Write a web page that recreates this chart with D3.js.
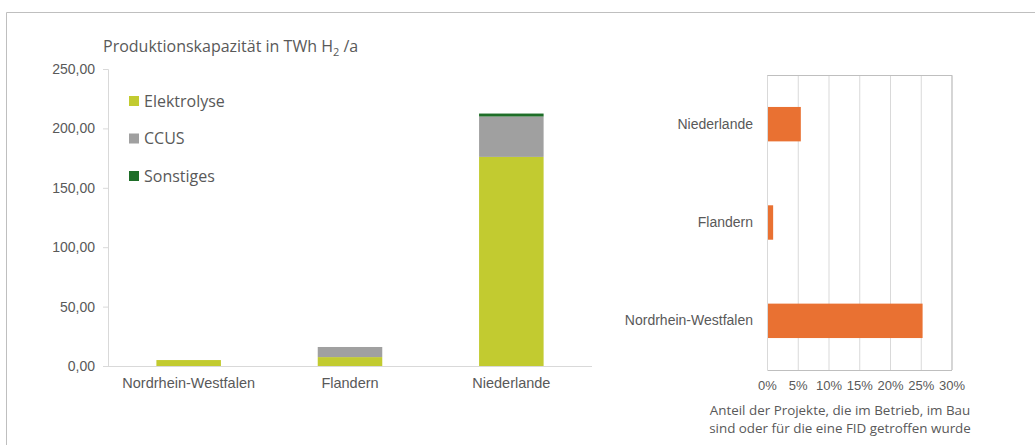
<!DOCTYPE html>
<html>
<head>
<meta charset="utf-8">
<script src="https://cdn.jsdelivr.net/npm/d3@7"></script>
<style>
  body { margin: 0; background: #fff; }
  svg { font-family: "Open Sans", "Liberation Sans", sans-serif; }
</style>
</head>
<body>
<svg width="1035" height="445"></svg>
<script>
// Daten
const regions = ["Nordrhein-Westfalen", "Flandern", "Niederlande"];
const elektrolyse = [5.0, 7.5, 176.0];
const ccus = [0.0, 8.5, 34.0];
const sonstiges = [0.0, 0.0, 2.5];
const seriesNames = ["Elektrolyse", "CCUS", "Sonstiges"];
const seriesColors = ["#c2cb30", "#a0a0a0", "#1e6e28"];
const yTicks = [0, 50, 100, 150, 200, 250];

const fidRegions = ["Niederlande", "Flandern", "Nordrhein-Westfalen"];
const fidShare = [5.5, 1.0, 25.3];
const xTicks = [0, 5, 10, 15, 20, 25, 30];

const svg = d3.select("svg");
const textColor = "#595959";

// Rahmen
svg.append("path")
    .attr("d", "M6.5,445 V12.5 H1035")
    .attr("fill", "none")
    .attr("stroke", "#bfbfbf")
    .attr("stroke-width", 1);

// ---- linkes Diagramm ----
const x = d3.scaleBand(regions, [108, 592]).paddingInner(0.6).paddingOuter(0.3);
const y = d3.scaleLinear([0, 250], [366, 69]);

const rows = regions.map((r, i) => ({
    region: r,
    Elektrolyse: elektrolyse[i],
    CCUS: ccus[i],
    Sonstiges: sonstiges[i]
}));
const stacked = d3.stack().keys(seriesNames)(rows);

const left = svg.append("g");

left.append("text")
    .attr("x", 103)
    .attr("y", 52)
    .attr("font-size", 16)
    .attr("fill", textColor)
    .call(t => {
        t.append("tspan").text("Produktionskapazität in TWh H");
        t.append("tspan").attr("font-size", 11).attr("dy", 4).text("2");
        t.append("tspan").attr("dy", -4).text(" /a");
    });

left.selectAll("g.series")
    .data(stacked)
    .join("g")
    .attr("fill", (d, i) => seriesColors[i])
    .selectAll("rect")
    .data(d => d)
    .join("rect")
    .attr("x", d => x(d.data.region))
    .attr("width", x.bandwidth())
    .attr("y", d => y(d[1]))
    .attr("height", d => y(d[0]) - y(d[1]));

const yAxis = left.append("g")
    .attr("transform", "translate(108,0)")
    .call(d3.axisLeft(y).tickValues(yTicks).tickSize(5).tickPadding(8)
        .tickFormat(d => d3.format(".2f")(d).replace(".", ",")));
yAxis.select(".domain").attr("stroke", "#d9d9d9");
yAxis.selectAll(".tick line").attr("stroke", "#d9d9d9");
yAxis.selectAll("text").attr("font-size", 14).attr("fill", textColor).attr("font-family", null);

const xAxis = left.append("g")
    .attr("transform", "translate(0,366)")
    .call(d3.axisBottom(x).tickSize(0).tickPadding(12));
xAxis.select(".domain").attr("stroke", "#d9d9d9").attr("d", "M108,0.5H592");
xAxis.selectAll("text").attr("font-size", 14.5).attr("fill", textColor).attr("font-family", null);

// Legende
const legend = left.append("g")
    .selectAll("g")
    .data(seriesNames)
    .join("g")
    .attr("transform", (d, i) => `translate(129,${101 + i * 37.5})`);
legend.append("rect")
    .attr("x", 0).attr("y", -5).attr("width", 10).attr("height", 10)
    .attr("fill", (d, i) => seriesColors[i]);
legend.append("text")
    .attr("x", 15).attr("dy", "0.35em")
    .attr("font-size", 16)
    .attr("fill", textColor)
    .text(d => d);

// ---- rechtes Diagramm ----
const xr = d3.scaleLinear([0, 30], [767, 951.5]);
const yr = d3.scaleBand(fidRegions, [75, 370]).paddingInner(0.65).paddingOuter(0.325);

const right = svg.append("g");

right.append("g")
    .selectAll("line")
    .data(xTicks)
    .join("line")
    .attr("x1", d => xr(d) + 0.5).attr("x2", d => xr(d) + 0.5)
    .attr("y1", 75).attr("y2", 370)
    .attr("stroke", "#d9d9d9");

right.append("path")
    .attr("d", `M${xr(0) + 0.5},75.5 H${xr(30) + 0.5} V370`)
    .attr("fill", "none")
    .attr("stroke", "#bfbfbf");

right.selectAll("rect.bar")
    .data(fidRegions)
    .join("rect")
    .attr("class", "bar")
    .attr("x", xr(0) + 1)
    .attr("y", d => yr(d))
    .attr("height", yr.bandwidth())
    .attr("width", (d, i) => xr(fidShare[i]) - xr(0) - 1)
    .attr("fill", "#e97132");

const xrAxis = right.append("g")
    .attr("transform", "translate(0,370)")
    .call(d3.axisBottom(xr).tickValues(xTicks).tickSize(0).tickPadding(11)
        .tickFormat(d => d + "%"));
xrAxis.select(".domain").attr("stroke", "#bfbfbf");
xrAxis.selectAll("text").attr("font-size", 13).attr("fill", textColor).attr("font-family", null);

const yrAxis = right.append("g")
    .attr("transform", "translate(767,0)")
    .call(d3.axisLeft(yr).tickSize(0).tickPadding(14));
yrAxis.select(".domain").remove();
yrAxis.selectAll("text").attr("font-size", 14).attr("fill", textColor).attr("font-family", null);

right.append("text")
    .attr("x", 840).attr("y", 415)
    .attr("text-anchor", "middle")
    .attr("font-size", 13.4)
    .attr("fill", textColor)
    .text("Anteil der Projekte, die im Betrieb, im Bau");
right.append("text")
    .attr("x", 840).attr("y", 433)
    .attr("text-anchor", "middle")
    .attr("font-size", 13.4)
    .attr("fill", textColor)
    .text("sind oder für die eine FID getroffen wurde");
</script>
</body>
</html>
